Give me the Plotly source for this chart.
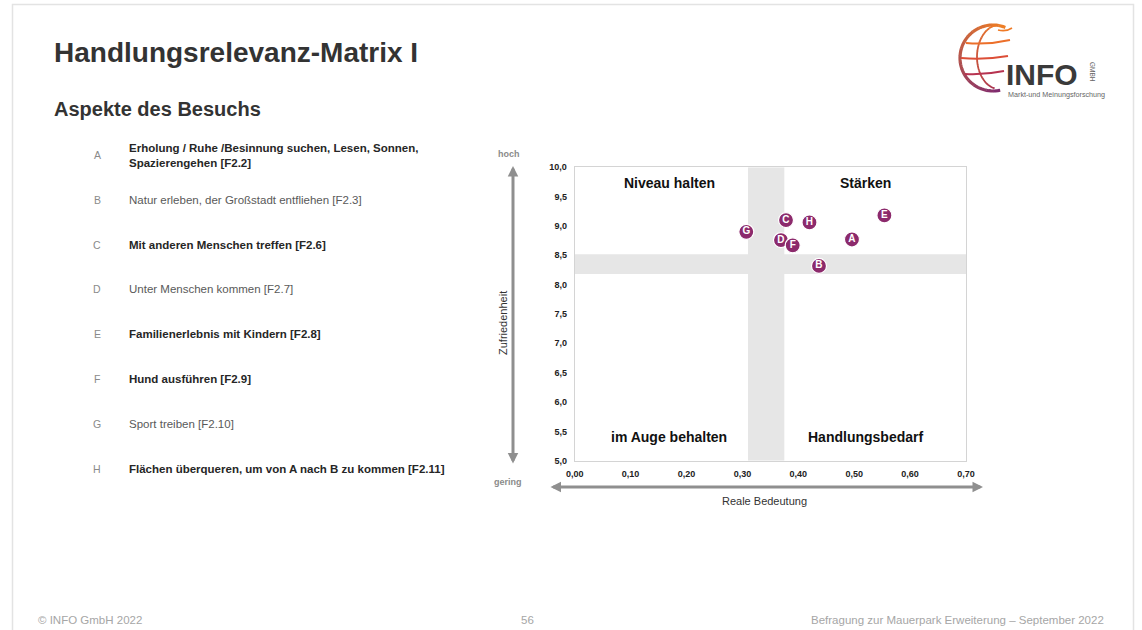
import math
import plotly.graph_objects as go

W, H = 1142, 630

# ---- data ---------------------------------------------------------------
codes = ["A", "B", "C", "D", "E", "F", "G", "H"]
aspects = [
    "Erholung / Ruhe /Besinnung suchen, Lesen, Sonnen,<br>Spazierengehen [F2.2]",
    "Natur erleben, der Großstadt entfliehen [F2.3]",
    "Mit anderen Menschen treffen [F2.6]",
    "Unter Menschen kommen [F2.7]",
    "Familienerlebnis mit Kindern [F2.8]",
    "Hund ausführen [F2.9]",
    "Sport treiben [F2.10]",
    "Flächen überqueren, um von A nach B zu kommen [F2.11]",
]
aspect_bold = [True, False, True, False, True, True, False, True]

real_importance = [0.496, 0.437, 0.378, 0.369, 0.554, 0.390, 0.307, 0.420]
satisfaction = [8.77, 8.32, 9.10, 8.76, 9.18, 8.67, 8.90, 9.06]

x_tickvals = [0.0, 0.1, 0.2, 0.3, 0.4, 0.5, 0.6, 0.7]
x_ticktext = ["0,00", "0,10", "0,20", "0,30", "0,40", "0,50", "0,60", "0,70"]
y_tickvals = [5.0, 5.5, 6.0, 6.5, 7.0, 7.5, 8.0, 8.5, 9.0, 9.5, 10.0]
y_ticktext = ["5,0", "5,5", "6,0", "6,5", "7,0", "7,5", "8,0", "8,5", "9,0", "9,5", "10,0"]

# grey reference bands (average zones)
band_x = [0.31, 0.375]
band_y = [8.18, 8.52]

quadrant_labels = ["Niveau halten", "Stärken", "im Auge behalten", "Handlungsbedarf"]

FONT = "Arial, Liberation Sans, sans-serif"
PURPLE = "#8c2a6c"


def px(x):
    return x / W


def py(y):
    return 1 - y / H


fig = go.Figure()

fig.add_trace(go.Scatter(
    x=real_importance, y=satisfaction, text=codes,
    mode="markers+text", textposition="middle center",
    marker=dict(size=15, color=PURPLE, line=dict(color="white", width=1.2)),
    textfont=dict(family=FONT, size=10, color="white", weight="bold"),
    hoverinfo="skip", showlegend=False,
))

shapes = []
# bands
shapes.append(dict(type="rect", xref="x", yref="y", x0=band_x[0], x1=band_x[1], y0=5, y1=10,
                   fillcolor="#e6e6e6", line=dict(width=0), layer="below"))
shapes.append(dict(type="rect", xref="x", yref="y", x0=0, x1=0.7, y0=band_y[0], y1=band_y[1],
                   fillcolor="#e6e6e6", line=dict(width=0), layer="below"))
# slide frame
shapes.append(dict(type="rect", xref="paper", yref="paper", x0=px(12.5), x1=px(1133.5),
                   y0=py(660), y1=py(4.5), line=dict(color="#e3e3e3", width=1.5),
                   fillcolor="rgba(0,0,0,0)", layer="below"))


# ---- logo ---------------------------------------------------------------
def mix(c1, c2, t):
    a = [int(c1[i:i + 2], 16) for i in (1, 3, 5)]
    b = [int(c2[i:i + 2], 16) for i in (1, 3, 5)]
    return "#" + "".join(f"{round(a[k] + (b[k] - a[k]) * t):02x}" for k in range(3))


def arc_segments(cx, cy, rx, ry, a0, a1, c0, c1, width, n=18):
    for i in range(n):
        t0 = a0 + (a1 - a0) * i / n
        t1 = a0 + (a1 - a0) * (i + 1.05) / n
        pts = []
        for k in range(4):
            t = math.radians(t0 + (t1 - t0) * k / 3)
            pts.append((cx + rx * math.cos(t), cy - ry * math.sin(t)))
        path = "M " + " L ".join(f"{px(x):.5f},{py(y):.5f}" for x, y in pts)
        shapes.append(dict(type="path", xref="paper", yref="paper", path=path,
                           line=dict(color=mix(c0, c1, (i + 0.5) / n), width=width)))


arc_segments(993, 58, 33, 33, 68, 282, "#f08024", "#7d2a70", 3.2)
arc_segments(999, 57, 22, 32, 98, 258, "#ee7a26", "#a8324f", 1.8)


def curve(p0, pc, p1, color, width):
    path = (f"M {px(p0[0]):.5f},{py(p0[1]):.5f} Q {px(pc[0]):.5f},{py(pc[1]):.5f} "
            f"{px(p1[0]):.5f},{py(p1[1]):.5f}")
    shapes.append(dict(type="path", xref="paper", yref="paper", path=path,
                       line=dict(color=color, width=width)))


curve((966, 43), (988, 45), (1010, 40), "#ec6f2a", 2)
curve((961, 58), (985, 60), (1008, 56), "#dc4e37", 2)
curve((965, 74), (985, 75), (1004, 71), "#b73350", 2)
curve((998, 30), (1006, 32), (1012, 28), "#ef7a26", 1.6)

annotations = []


def text(x, y, s, size, color="#333333", bold=False, xanchor="left", yanchor="middle",
         angle=0, family=FONT):
    annotations.append(dict(
        x=px(x), y=py(y), xref="paper", yref="paper", text=s, showarrow=False,
        xanchor=xanchor, yanchor=yanchor, textangle=angle, align="left",
        font=dict(family=family, size=size, color=color, weight="bold" if bold else "normal"),
    ))


text(1004, 74, "INFO", 30, color="#3a3a3a", bold=True)
text(1093, 72, "GMBH", 6.5, color="#666666", xanchor="center", angle=90)
text(1006, 94, "Markt-und Meinungsforschung", 7.2, color="#666666")

# ---- titles ---------------------------------------------------------------
text(52, 52, "Handlungsrelevanz-Matrix I", 28, color="#333333", bold=True)
text(52, 109, "Aspekte des Besuchs", 20, color="#333333", bold=True)

# ---- legend list --------------------------------------------------------
list_y = [155, 200, 245, 289, 334, 379, 424, 469]
for code, label, bold, yy in zip(codes, aspects, aspect_bold, list_y):
    text(97, yy, code, 10.5, color="#8a8a8a", xanchor="center")
    text(127, yy, label, 11.5, color="#262626" if bold else "#595959", bold=bold)

# ---- quadrant labels ----------------------------------------------------
qx = [0.169, 0.521, 0.169, 0.521]
qy = [9.74, 9.74, 5.41, 5.41]
for lab, xx, yy in zip(quadrant_labels, qx, qy):
    annotations.append(dict(x=xx, y=yy, xref="x", yref="y", text=lab, showarrow=False,
                            font=dict(family=FONT, size=14, color="#111111", weight="bold")))

# ---- axis arrows and captions -------------------------------------------
ARROW = "#8f8f8f"
annotations.append(dict(x=px(513), y=py(166), xref="paper", yref="paper", ax=0, ay=299,
                        axref="pixel", ayref="pixel", showarrow=True, arrowside="end+start",
                        arrowhead=2, arrowsize=0.7, arrowwidth=3, arrowcolor=ARROW, text=""))
annotations.append(dict(x=px(983), y=py(487), xref="paper", yref="paper", ax=-434, ay=0,
                        axref="pixel", ayref="pixel", showarrow=True, arrowside="end+start",
                        arrowhead=2, arrowsize=0.7, arrowwidth=3, arrowcolor=ARROW, text=""))
text(509, 154, "hoch", 9, color="#8a8a8a", bold=True, xanchor="center")
text(508, 482, "gering", 9, color="#8a8a8a", bold=True, xanchor="center")
text(503, 323, "Zufriedenheit", 11, color="#333333", xanchor="center", angle=-90)
text(764, 501, "Reale Bedeutung", 11, color="#333333", xanchor="center")

# ---- footer -------------------------------------------------------------
text(36, 620, "© INFO GmbH 2022", 11.5, color="#a6a6a6")
text(527, 620, "56", 11.5, color="#a6a6a6", xanchor="center")
text(1106, 620, "Befragung zur Mauerpark Erweiterung – September 2022", 11.5, color="#a6a6a6",
     xanchor="right")

axis_font = dict(family=FONT, size=9, color="#222222", weight="bold")
fig.update_layout(
    width=W, height=H, margin=dict(l=0, r=0, t=0, b=0, autoexpand=False),
    paper_bgcolor="white", plot_bgcolor="white",
    font=dict(family=FONT),
    shapes=shapes, annotations=annotations, showlegend=False,
    xaxis=dict(domain=[574.7 / W, 966 / W], range=[0, 0.7], tickvals=x_tickvals,
               ticktext=x_ticktext, tickfont=axis_font, showgrid=False, zeroline=False,
               showline=True, mirror=True, linecolor="#d4d4d4", linewidth=1,
               ticks="outside", ticklen=4, tickcolor="rgba(0,0,0,0)", fixedrange=True),
    yaxis=dict(domain=[1 - 460.7 / H, 1 - 167.3 / H], range=[5, 10], tickvals=y_tickvals,
               ticktext=y_ticktext, tickfont=axis_font, showgrid=False, zeroline=False,
               showline=True, mirror=True, linecolor="#d4d4d4", linewidth=1,
               ticks="outside", ticklen=5, tickcolor="rgba(0,0,0,0)", fixedrange=True),
)

fig.write_html("out.html", config={"displayModeBar": False})
